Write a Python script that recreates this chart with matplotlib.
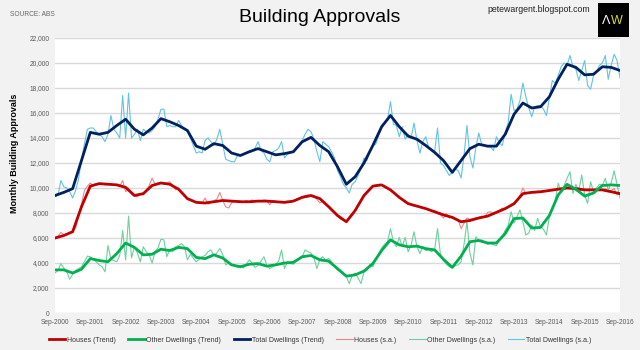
import matplotlib
matplotlib.use('Agg')
import matplotlib.pyplot as plt
from matplotlib.patches import Rectangle
import numpy as np

# x axis labels (yearly, every September)
year_labels = ['Sep-2000', 'Sep-2001', 'Sep-2002', 'Sep-2003', 'Sep-2004', 'Sep-2005',
               'Sep-2006', 'Sep-2007', 'Sep-2008', 'Sep-2009', 'Sep-2010', 'Sep-2011',
               'Sep-2012', 'Sep-2013', 'Sep-2014', 'Sep-2015', 'Sep-2016']

# trend series, read quarterly (Sep, Dec, Mar, Jun) from Sep-2000 to Sep-2016
houses_trend = [6000, 6200, 6500, 8500, 10150, 10350, 10300, 10250, 10050, 9400, 9550, 10200,
                10400, 10300, 9900, 9150, 8850, 8800, 8900, 9000, 8950, 8900, 8900, 8950,
                8950, 8900, 8850, 8950, 9250, 9400, 9150, 8500, 7800, 7300, 8200, 9400,
                10150, 10250, 9850, 9250, 8750, 8550, 8350, 8100, 7850, 7650, 7300, 7400,
                7600, 7750, 8050, 8350, 8750, 9550, 9650, 9700, 9800, 9900, 10000, 9950,
                9850, 9850, 9850, 9700, 9550]
other_trend = [3450, 3450, 3200, 3500, 4350, 4200, 4100, 4750, 5600, 5250, 4650, 4700,
               5100, 5000, 5250, 5150, 4450, 4350, 4650, 4400, 3850, 3700, 3900, 3950,
               3750, 3850, 4000, 4050, 4500, 4600, 4250, 4150, 3550, 2950, 3050, 3350,
               3950, 5000, 5850, 5450, 5300, 5350, 5150, 5050, 4300, 3650, 4550, 5700,
               5800, 5600, 5600, 6350, 7550, 7600, 6800, 6850, 7800, 9450, 10290, 9900,
               9350, 9600, 10200, 10250, 10200]
total_trend = [9400, 9650, 9950, 12200, 14450, 14300, 14450, 15000, 15500, 14700, 14250, 14800,
               15550, 15300, 15000, 14600, 13350, 13100, 13550, 13400, 12800, 12600, 12900, 13150,
               12900, 12650, 12750, 12900, 13700, 14050, 13400, 12900, 11700, 10300, 10900, 12000,
               13400, 14900, 15800, 14900, 14150, 13900, 13400, 12850, 12200, 11250, 12200, 13150,
               13500, 13350, 13350, 14300, 15900, 16800, 16400, 16500, 17300, 18700, 19900, 19650,
               19050, 19100, 19700, 19650, 19400]

# seasonally adjusted series, monthly from Sep-2000 to Sep-2016
houses_sa = [5950, 6150, 6450, 6250, 6300, 6400, 6600, 6800, 7800, 8700, 9800, 10150,
             10400, 10200, 10350, 10300, 10400, 10250, 10300, 10350, 10200, 10300, 10150, 10600,
             9700, 10000, 9500, 9350, 9300, 9500, 9450, 9800, 10200, 10800, 10300, 10400,
             10450, 10300, 10400, 10500, 10200, 9850, 10000, 9600, 9450, 9100, 9000, 8950,
             8850, 8850, 8800, 9200, 8700, 8850, 9000, 9100, 9650, 9000, 8500, 8400,
             8800, 8950, 9000, 8950, 8850, 9000, 8900, 9050, 8950, 9000, 8900, 9050,
             9000, 8650, 9000, 8950, 8900, 8850, 8900, 8950, 8850, 9000, 9100, 9200,
             9300, 9400, 9450, 9350, 9300, 9100, 8800, 8950, 8700, 8500, 8200, 8000,
             7750, 7500, 7400, 7300, 7500, 7800, 8200, 8700, 9000, 9450, 9700, 9950,
             10150, 10250, 10300, 10250, 10150, 10000, 9850, 9650, 9450, 9250, 9050, 8850,
             8750, 8700, 8550, 8550, 8500, 8400, 8350, 8300, 8100, 8200, 7950, 7850,
             7600, 7950, 7600, 7700, 7500, 7450, 6750, 7200, 7600, 7500, 7550, 7600,
             7650, 7750, 7650, 8050, 8100, 7900, 8050, 8200, 8400, 8300, 8500, 8550,
             8700, 9050, 9400, 10000, 9550, 9600, 9700, 9600, 9750, 9700, 9800, 9700,
             9850, 9800, 9900, 10000, 9950, 9900, 10050, 9950, 10000, 9800, 9700, 9850,
             9900, 9800, 9850, 9900, 9800, 9900, 9850, 9950, 9750, 9800, 9950, 9450,
             9500]
other_sa = [3200, 3400, 3950, 3600, 3300, 2700, 3100, 3400, 3550, 3700, 4100, 4550,
            4500, 4300, 4100, 3850, 3700, 3300, 5400, 4300, 4200, 4100, 4600, 6600,
            4250, 7750, 4400, 5300, 4800, 4100, 5300, 4900, 4650, 4000, 4900, 5200,
            5900, 5850, 4500, 5100, 4900, 5300, 5400, 5550, 5300, 4250, 4700, 4400,
            4100, 4300, 4500, 4600, 4900, 5050, 4600, 4800, 5150, 4700, 3850, 4000,
            3900, 3850, 3650, 3800, 3600, 3900, 4250, 4000, 3650, 3800, 4150, 4500,
            3800, 3550, 3700, 3900, 4150, 5050, 3550, 4100, 3950, 3900, 4200, 4300,
            4500, 5050, 4900, 4800, 4400, 3550, 4300, 4500, 4200, 4370, 4100, 3700,
            3450, 3300, 3150, 2900, 2350, 3000, 3200, 2800, 2350, 3300, 3400, 3900,
            3700, 4250, 4700, 5200, 5500, 5700, 6750, 5700, 5300, 6050, 5300, 6050,
            4900, 5400, 6500, 5300, 4750, 5300, 5000, 5050, 4900, 5100, 6750, 4650,
            4200, 3900, 3700, 3650, 3800, 3850, 4100, 5500, 7300, 4800, 3850, 6100,
            5800, 5850, 5700, 5500, 5570, 5450, 5400, 5840, 6100, 6640, 7000, 8100,
            7200, 7700, 8240, 7300, 6240, 6400, 7050, 6600, 7570, 6900, 6700, 6240,
            7700, 8300, 9000, 10370, 9700, 10200, 10770, 11300, 9570, 10300, 9800, 11040,
            9400, 8770, 10500, 9700, 10000, 10300, 10200, 10770, 9840, 10400, 11380, 10300,
            9200]
total_sa = [9300, 9400, 10600, 10100, 10000, 9700, 9200, 9800, 10700, 12300, 13500, 14700,
            14800, 14800, 14500, 14300, 14100, 13700, 14300, 15800, 14700, 14400, 14000, 17400,
            14000, 17600, 14000, 14300, 14700, 13800, 14700, 14500, 14400, 14600, 14900, 15500,
            16300, 16300, 14900, 15000, 14900, 14900, 15400, 15000, 14700, 14500, 14000, 13400,
            12800, 12900, 12800, 13800, 14000, 13700, 13400, 13900, 14700, 13500, 12300, 12200,
            12100, 12100, 12600, 12600, 12700, 12800, 12900, 12900, 13200, 13700, 13000, 12800,
            12300, 12100, 12900, 13000, 13200, 13700, 12400, 12700, 12800, 12900, 13200, 13400,
            13800, 14300, 14700, 14500, 13900, 12900, 12100, 13700, 13500, 13300, 12900, 12400,
            11400, 10900, 10300, 10000, 9600, 10300, 10500, 11000, 11600, 12400, 12200, 13000,
            13400, 13500, 14200, 14800, 15200, 15500, 16900, 15100, 15000, 14100, 14900, 13900,
            14300, 14000, 15200, 13800, 12800, 13700, 14100, 13200, 13100, 12900, 14800, 12000,
            11800, 11400, 11000, 11300, 11500, 11400, 10800, 12600, 15000, 12500, 11600, 13200,
            14400, 13500, 13400, 13300, 13300, 13000, 14100, 13600, 13400, 14500, 15200, 17500,
            16200, 16300, 17000, 18400, 17300, 16400, 15700, 16500, 16600, 16600, 16300, 15800,
            17200, 18600, 18400, 19000, 19700, 20000, 19800, 20600, 19700, 19500, 18600, 19400,
            20200, 18200, 17900, 19000, 19300, 19800, 20000, 20600, 18700, 19800, 20700, 20200,
            18800]

plt.rcParams['font.family'] = ['Liberation Sans', 'DejaVu Sans']

months_sa = np.arange(len(total_sa))
months_trend = np.arange(len(total_trend)) * 3

fig = plt.figure(figsize=(6.4, 3.5), dpi=100, facecolor='#f2f2f2')
ax = fig.add_axes([55 / 640, 37 / 350, 565 / 640, 275 / 350])
ax.set_facecolor('white')

# s.a. lines underneath, trends on top
ax.plot(months_sa, houses_sa, color='#e8898b', lw=0.8, label='Houses (s.a.)', zorder=2)
ax.plot(months_sa, other_sa, color='#6fcf9c', lw=0.8, label='Other Dwellings (s.a.)', zorder=2)
ax.plot(months_sa, total_sa, color='#62c3e3', lw=0.8, label='Total Dwellings (s.a.)', zorder=2)
ax.plot(months_trend, houses_trend, color='#c00000', lw=2.0, label='Houses (Trend)',
        zorder=3, solid_joinstyle='round')
ax.plot(months_trend, other_trend, color='#00b050', lw=2.0, label='Other Dwellings (Trend)',
        zorder=3, solid_joinstyle='round')
ax.plot(months_trend, total_trend, color='#002060', lw=2.0, label='Total Dwellings (Trend)',
        zorder=3, solid_joinstyle='round')

ax.set_xlim(0, len(total_sa) - 1)
ax.set_ylim(0, 22000)
ax.set_yticks(np.arange(0, 22001, 2000))
ax.set_yticklabels([f'{v:,}' for v in range(0, 22001, 2000)])
ax.set_xticks(np.arange(0, len(total_sa), 12))
ax.set_xticklabels(year_labels)
ax.tick_params(length=0, labelsize=4.8, labelcolor='#595959', pad=4)
ax.grid(axis='y', color='#d9d9d9', lw=1)
ax.set_axisbelow(True)
for s in ax.spines.values():
    s.set_visible(False)

ax.set_ylabel('Monthly Building Approvals', fontsize=6.5, fontweight='bold')
ax.yaxis.set_label_coords(-36 / 565, 0.58)

# legend order as in the reference
h, l = ax.get_legend_handles_labels()
order = [3, 4, 5, 0, 1, 2]
fig.legend([h[i] for i in order], [l[i] for i in order], loc='center',
           bbox_to_anchor=(0.5, 10 / 350), ncol=6, frameon=False, fontsize=5,
           handlelength=2.4, handletextpad=0.2, columnspacing=1.8, labelcolor='#333333')

fig.text(0.5, 1 - 17 / 350, 'Building Approvals', ha='center', va='center', fontsize=14)
fig.text(10 / 640, 1 - 15 / 350, 'SOURCE: ABS', ha='left', va='center',
         fontsize=4.8, color='#666666')
fig.text(590 / 640, 1 - 9 / 350, 'petewargent.blogspot.com', ha='right', va='center',
         fontsize=6.3, color='#222222')

fig.patches.append(Rectangle((598 / 640, 1 - 37 / 350), 31 / 640, 34 / 350,
                             transform=fig.transFigure, facecolor='black', zorder=5))
fig.text(606 / 640, 1 - 21 / 350, 'Λ', ha='center', va='center', fontsize=9,
         color='white', zorder=6)
fig.text(617 / 640, 1 - 21 / 350, 'W', ha='center', va='center', fontsize=9,
         color='#d8d838', zorder=6)

fig.savefig('out.png', dpi=100, facecolor=fig.get_facecolor())
